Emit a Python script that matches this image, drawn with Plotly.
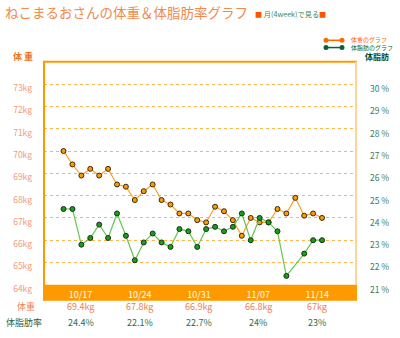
import plotly.graph_objects as go

# ---- data ----
days = list(range(30))  # 10/16 .. 11/14
weight = [70.0, 69.4, 68.9, 69.2, 68.9, 69.2, 68.5, 68.4, 67.8, 68.2,
          68.5, 67.8, 67.6, 67.2, 67.2, 66.9, 66.8, 67.5, 67.3, 66.9,
          66.2, 67.0, 66.8, 66.8, 67.4, 67.2, 67.9, 67.1, 67.2, 67.0]
fat = [24.4, 24.4, 22.8, 23.1, 23.7, 23.1, 24.2, 23.2, 22.1, 22.9,
       23.3, 22.9, 22.7, 23.5, 23.4, 22.7, 23.5, 23.6, 23.4, 23.6,
       24.2, 23.0, 24.0, 23.8, 23.4, 21.4, None, 22.4, 23.0, 23.0]
week_labels = ["10/17", "10/24", "10/31", "11/07", "11/14"]
week_weight = [69.4, 67.8, 66.9, 66.8, 67.0]
week_fat = [24.4, 22.1, 22.7, 24.0, 23.0]
kg_ticks = [64, 65, 66, 67, 68, 69, 70, 71, 72, 73]
pct_ticks = [21, 22, 23, 24, 25, 26, 27, 28, 29, 30]

W, H = 400, 338
FONT = "Noto Sans CJK JP"


def px(x):
    return x / W


def py(y):
    return 1 - y / H


plot_top, plot_bot = 63.7, 293.5
plot_left, plot_right = 44, 356
band_bot = 310

fig = go.Figure()

fig.add_trace(go.Scatter(
    x=days, y=weight, mode="lines+markers", xaxis="x", yaxis="y",
    line=dict(color="#F5A431", width=1.2),
    marker=dict(size=5, color="#FF9900", line=dict(color="#3a2a10", width=1)),
    hoverinfo="skip", showlegend=False))
fig.add_trace(go.Scatter(
    x=days, y=fat, mode="lines+markers", xaxis="x", yaxis="y2", connectgaps=True,
    line=dict(color="#66C655", width=1.2),
    marker=dict(size=5, color="#16A016", line=dict(color="#1a301a", width=1)),
    hoverinfo="skip", showlegend=False))
# weekly helper trace on week axis (invisible)
fig.add_trace(go.Scatter(
    x=list(range(len(week_labels))), y=week_weight, xaxis="x2", yaxis="y",
    mode="markers", marker=dict(opacity=0), hoverinfo="skip", showlegend=False))

dom_y = [py(plot_bot), py(plot_top)]
dom_x = [px(plot_left), px(plot_right)]

fig.update_layout(
    width=W, height=H, margin=dict(l=0, r=0, t=0, b=0),
    paper_bgcolor="white", plot_bgcolor="white",
    font=dict(family=FONT),
    xaxis=dict(domain=dom_x, range=[-2.19, 32.81], showgrid=False, zeroline=False,
               showticklabels=False, showline=False, fixedrange=True),
    xaxis2=dict(domain=dom_x, overlaying="x", anchor="y", side="bottom",
                range=[-0.617, 4.653], tickmode="array",
                tickvals=list(range(len(week_labels))), ticktext=week_labels,
                tickfont=dict(color="white", size=9, family=FONT),
                ticks="", ticklabelstandoff=3, showgrid=False, zeroline=False,
                showline=False),
    yaxis=dict(domain=dom_y, range=[64, 74], tickmode="array",
               tickvals=kg_ticks, ticktext=[f"{v}kg" for v in kg_ticks],
               tickfont=dict(color="#F39A78", size=8.5, family=FONT),
               ticks="", ticklabelstandoff=11, ticklabelshift=4,
               showgrid=True, gridcolor="#FFB54A", griddash="dot", gridwidth=1,
               zeroline=False, showline=False),
    yaxis2=dict(domain=dom_y, range=[21, 31], overlaying="y", side="right",
                anchor="x", tickmode="array",
                tickvals=pct_ticks, ticktext=[f"{v} %" for v in pct_ticks],
                tickfont=dict(color="#3E7A5A", size=8.5, family=FONT),
                ticks="", ticklabelstandoff=13, ticklabelshift=5,
                showgrid=False, zeroline=False, showline=False),
)

shapes = [
    # bottom orange band
    dict(type="rect", xref="paper", yref="paper", x0=px(43), x1=px(357),
         y0=py(band_bot), y1=py(plot_bot), fillcolor="#FF9900", line=dict(width=0), layer="below"),
    # top border
    dict(type="line", xref="paper", yref="paper", x0=px(plot_left - 1), x1=px(plot_right + 1),
         y0=py(plot_top), y1=py(plot_top), line=dict(color="#FF9900", width=2)),
    # left border
    dict(type="line", xref="paper", yref="paper", x0=px(plot_left), x1=px(plot_left),
         y0=py(band_bot), y1=py(plot_top), line=dict(color="#FF9900", width=2)),
    # right border
    dict(type="line", xref="paper", yref="paper", x0=px(plot_right), x1=px(plot_right),
         y0=py(plot_bot), y1=py(plot_top), line=dict(color="#FFD596", width=2)),
]

# custom legend glyphs
for yy, col in [(41.5, "#FF6600"), (49, "#006633")]:
    shapes.append(dict(type="line", xref="paper", yref="paper", x0=px(326), x1=px(342),
                       y0=py(yy), y1=py(yy), line=dict(color=col, width=1.5)))
    for xx in (326, 342):
        shapes.append(dict(type="circle", xref="paper", yref="paper",
                           xsizemode="pixel", ysizemode="pixel",
                           xanchor=px(xx), yanchor=py(yy),
                           x0=-2.5, x1=2.5, y0=-2.5, y1=2.5,
                           fillcolor=col, line=dict(color=col, width=0)))
fig.update_layout(shapes=shapes)

ann = []


def text(x, y, s, color, size, anchor="left", bold=False):
    if bold:
        s = f"<b>{s}</b>"
    ann.append(dict(x=px(x), y=py(y), xref="paper", yref="paper", text=s,
                    showarrow=False, xanchor=anchor, yanchor="middle", borderpad=0,
                    font=dict(color=color, size=size, family=FONT)))


text(4, 12, "ねこまるおさんの体重＆体脂肪率グラフ", "#F28A4C", 13.5)
text(254, 14, "<span style='color:#FF5500'>■</span> 月(4week)で見る<span style='color:#FF5500'>■</span>",
     "#3E8A55", 7.2)
text(350, 40.5, "体重のグラフ", "#FF6600", 6)
text(350, 49, "体脂肪のグラフ", "#006633", 6)
text(377, 58.5, "体脂肪", "#0B4A2A", 8, anchor="center", bold=True)
text(23, 58, "体 重", "#F0701E", 9, anchor="center", bold=True)
text(26, 316, "体重", "#F08050", 9, anchor="center")
text(24, 332, "体脂肪率", "#2E5E40", 9, anchor="center")

for i in range(len(week_labels)):
    ann.append(dict(x=i, y=py(316), xref="x2", yref="paper", text=f"{week_weight[i]:g}kg",
                    showarrow=False, xanchor="center", yanchor="middle", borderpad=0,
                    font=dict(color="#F08050", size=9, family=FONT)))
    ann.append(dict(x=i, y=py(332), xref="x2", yref="paper", text=f"{week_fat[i]:g}%",
                    showarrow=False, xanchor="center", yanchor="middle", borderpad=0,
                    font=dict(color="#2E6E48", size=9, family=FONT)))

fig.update_layout(annotations=ann)

fig.write_html("out.html")
